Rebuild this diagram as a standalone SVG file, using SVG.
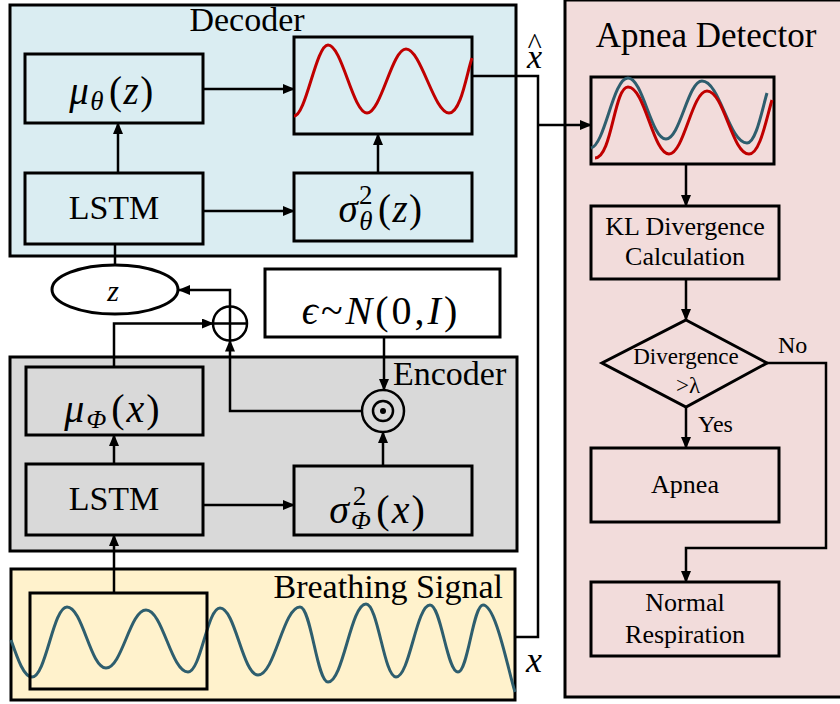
<svg xmlns="http://www.w3.org/2000/svg" width="840" height="704" viewBox="0 0 840 704" font-family="'Liberation Serif','Times New Roman',serif">
<defs>
<marker id="ah" markerUnits="userSpaceOnUse" markerWidth="12" markerHeight="10" refX="11" refY="5" orient="auto">
<path d="M0,0 L12,5 L0,10 z" fill="#000"/>
</marker>
<style>
.box{stroke:#000;stroke-width:3}
.w{fill:none}
.con{fill:none;stroke:#000;stroke-width:2.5}
.arr{marker-end:url(#ah)}
.t{font-family:"Liberation Serif","Times New Roman",serif;fill:#000}
.m{font-family:"Liberation Serif","Times New Roman",serif;font-style:italic;fill:#000}
.c{text-anchor:middle}
</style>
</defs>
<rect width="840" height="704" fill="#fff"/>

<!-- Panels -->
<g id="decoder">
<rect class="box" x="10" y="5" width="506" height="251" fill="#DAEDF2"/>
<text class="t c" x="247" y="31" font-size="34">Decoder</text>
</g>
<g id="encoder">
<rect class="box" x="10" y="357" width="507" height="194" fill="#D9D9D9"/>
<text class="t" x="393" y="385" font-size="34">Encoder</text>
</g>
<g id="breathing">
<rect class="box" x="11" y="569" width="504" height="131" fill="#FFF2CC"/>
<text class="t" x="503" y="598" font-size="34" text-anchor="end">Breathing Signal</text>
<path d="M11,640 C18,660 24,677 32,677 C46,677 53,607 67,607 C82.6,607 90.4,668 106,668 C122,668 130,610 146,610 C162.8,610 171.2,672 188,672 C200.8,672 207.2,608 220,608 C235.2,608 242.8,675 258,675 C274.8,675 283.2,607 300,607 C311.2,607 316.8,682 328,682 C343.2,682 350.8,604 366,604 C378,604 384,677 396,677 C409.6,677 416.4,605 430,605 C441.2,605 446.8,672 458,672 C468,672 473,605 483,605 C496,605 508,670 515,692" fill="none" stroke="#2E5E6E" stroke-width="3"/>
</g>
<g id="window">
<rect class="box w" x="30" y="593" width="177" height="96"/>
</g>
<g id="apnea-detector">
<rect class="box" x="565" y="0" width="290" height="697" fill="#F2DCDB"/>
<text class="t c" x="706" y="47" font-size="35">Apnea Detector</text>
</g>

<!-- Decoder nodes -->
<g id="mu-theta">
<rect class="box" x="25" y="54" width="178" height="69" fill="#DAEDF2"/>
<text class="t c" x="112" y="104" font-size="39" letter-spacing="1.5"><tspan class="m">μ</tspan><tspan class="m" font-size="27" dy="6">θ</tspan><tspan dy="-6" dx="4">(</tspan><tspan class="m">z</tspan>)</text>
</g>
<g id="lstm-dec">
<rect class="box" x="25" y="173" width="178" height="71" fill="#DAEDF2"/>
<text class="t c" x="114" y="219" font-size="34">LSTM</text>
</g>
<g id="recon">
<rect class="box" x="294" y="37" width="178" height="97" fill="#DAEDF2"/>
<path d="M294,116 C306,116 316,45 328,45 C342,45 353,113 367,113 C381,113 392,49 406,49 C421,49 434,113 449,113 C461,113 467,72 472,58" fill="none" stroke="#C00000" stroke-width="3"/>
</g>
<g id="sigma-theta">
<rect class="box" x="294" y="173" width="178" height="68" fill="#DAEDF2"/>
<text class="t c" x="381" y="222" font-size="39" letter-spacing="1.5"><tspan class="m">σ</tspan><tspan class="m" font-size="27" dy="8">θ</tspan><tspan font-size="27" dx="-15" dy="-26">2</tspan><tspan dy="18" dx="4">(</tspan><tspan class="m">z</tspan>)</text>
</g>

<!-- latent -->
<g id="z">
<ellipse class="box" cx="115" cy="289.5" rx="63" ry="24.5" fill="#fff"/>
<text class="m c" x="113" y="301" font-size="30">z</text>
</g>
<g id="plus">
<circle cx="230" cy="323.5" r="17" fill="none" stroke="#000" stroke-width="2.5"/>
<path d="M213,323.5 H247 M230,306.5 V340.5" stroke="#000" stroke-width="2.5"/>
</g>
<g id="eps">
<rect class="box" x="265" y="269" width="235" height="68" fill="#fff"/>
<text class="t c" x="381" y="324" font-size="40" letter-spacing="3"><tspan class="m">ϵ</tspan>~<tspan class="m">N</tspan>(0,<tspan class="m">I</tspan>)</text>
</g>
<g id="odot">
<circle cx="383" cy="411" r="21" fill="none" stroke="#000" stroke-width="2.5"/>
<circle cx="383" cy="411" r="10" fill="none" stroke="#000" stroke-width="2.5"/>
<circle cx="383" cy="411" r="3" fill="#000"/>
</g>

<!-- Encoder nodes -->
<g id="mu-phi">
<rect class="box" x="26" y="367" width="177" height="68" fill="#D9D9D9"/>
<text class="t c" x="113" y="422" font-size="40" letter-spacing="2"><tspan class="m">μ</tspan><tspan class="m" font-size="26" dy="6">Φ</tspan><tspan dy="-6" dx="3">(</tspan><tspan class="m">x</tspan>)</text>
</g>
<g id="lstm-enc">
<rect class="box" x="26" y="464" width="177" height="71" fill="#D9D9D9"/>
<text class="t c" x="114" y="510" font-size="34">LSTM</text>
</g>
<g id="sigma-phi">
<rect class="box" x="294" y="466" width="178" height="69" fill="#D9D9D9"/>
<text class="t c" x="378" y="523" font-size="40" letter-spacing="2"><tspan class="m">σ</tspan><tspan class="m" font-size="26" dy="6">Φ</tspan><tspan font-size="27" dx="-20" dy="-24">2</tspan><tspan dy="18" dx="8">(</tspan><tspan class="m">x</tspan>)</text>
</g>

<!-- labels -->
<g id="xhat">
<text class="m" x="527" y="68" font-size="34">x<tspan class="t" font-size="30" dx="-15" dy="-14">^</tspan></text>
</g>
<g id="xlabel">
<text class="m c" x="534" y="672" font-size="36">x</text>
</g>

<!-- Detector nodes -->
<g id="compare">
<rect class="box" x="591" y="77" width="183" height="87" fill="#F2DCDB"/>
<path d="M591,148 C605,145 613,78 628,78 C643,78 651,139 666,139 C680,139 688,81 702,81 C720,81 729,143 747,143 C756,143 762,110 767,93" fill="none" stroke="#2E5E6E" stroke-width="3"/>
<path d="M595,158 C612,158 614,87 628,87 C645,87 653,154 669,154 C684,154 692,91 707,91 C724,91 732,154 749,154 C760,154 766,120 772,100" fill="none" stroke="#C00000" stroke-width="3"/>
</g>
<g id="kl">
<rect class="box" x="591" y="206" width="188" height="73" fill="#F2DCDB"/>
<text class="t c" x="685" y="235" font-size="26">KL Divergence</text>
<text class="t c" x="685" y="265" font-size="26">Calculation</text>
</g>
<g id="decision">
<polygon class="box" points="686,320 767,363 686,407 602,363" fill="#F2DCDB"/>
<text class="t c" x="686" y="364" font-size="23">Divergence</text>
<text class="t c" x="688" y="393" font-size="23">&gt;λ</text>
</g>
<g id="apnea">
<rect class="box" x="591" y="448" width="188" height="74" fill="#F2DCDB"/>
<text class="t c" x="685" y="493" font-size="26">Apnea</text>
</g>
<g id="normal">
<rect class="box" x="591" y="582" width="188" height="74" fill="#F2DCDB"/>
<text class="t c" x="685" y="611" font-size="26">Normal</text>
<text class="t c" x="685" y="643" font-size="26">Respiration</text>
</g>

<!-- Connectors -->
<g id="connectors">
<path class="con arr" d="M118,173 V123"/>
<path class="con arr" d="M203,89 H294"/>
<path class="con arr" d="M203,211 H294"/>
<path class="con arr" d="M378,173 V134"/>
<path class="con" d="M115,244 V265"/>
<path class="con" d="M472,76 H538 V637 H515"/>
<path class="con arr" d="M538,125 H591"/>
<path class="con arr" d="M114,367 V323.5 H213"/>
<path class="con arr" d="M230,306.5 V290 H179"/>
<path class="con arr" d="M362,411 H230 V340.5"/>
<path class="con arr" d="M384,337 V390"/>
<path class="con arr" d="M383,466 V432"/>
<path class="con arr" d="M203,505 H294"/>
<path class="con arr" d="M114,464 V435"/>
<path class="con arr" d="M114,593 V535"/>
<path class="con arr" d="M686,164 V206"/>
<path class="con arr" d="M686,279 V320"/>
<path class="con arr" d="M686,407 V448"/>
<path class="con arr" d="M767,363 H826 V548 H686 V582"/>
<text class="t" x="778" y="353" font-size="24">No</text>
<text class="t" x="698" y="432" font-size="24">Yes</text>
</g>
</svg>
